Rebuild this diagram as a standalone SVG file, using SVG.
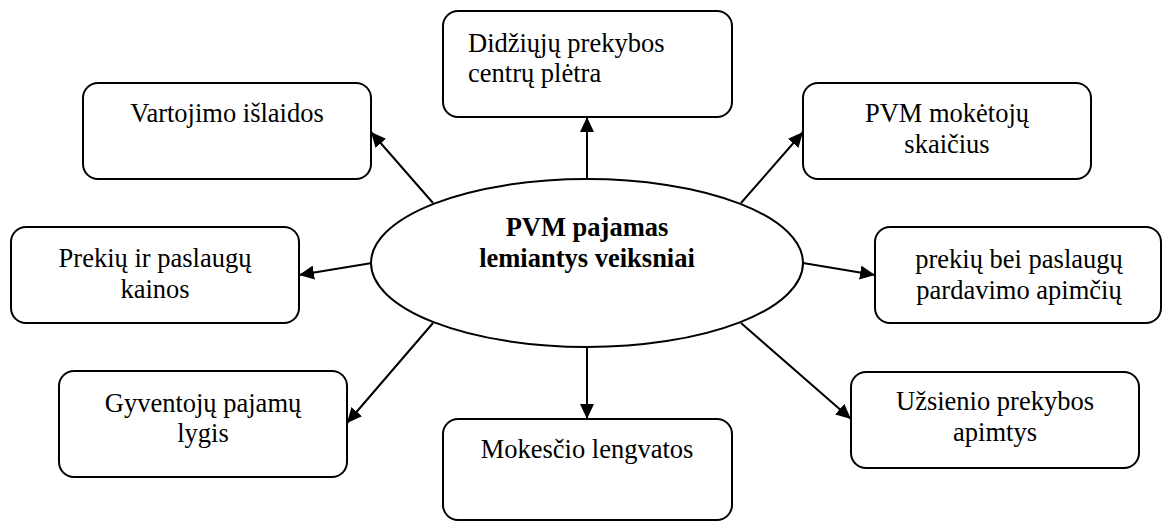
<svg xmlns="http://www.w3.org/2000/svg" width="1162" height="521" viewBox="0 0 1162 521">
<style>
.box{fill:#fff;stroke:#000;stroke-width:2}
.t{font-family:'Liberation Serif','DejaVu Serif',serif;font-size:26.5px;fill:#000}
.c{text-anchor:middle}
.b{font-weight:bold}
.ln{stroke:#000;stroke-width:2;fill:none;marker-end:url(#ah)}
</style>
<defs>
<marker id="ah" markerUnits="userSpaceOnUse" markerWidth="16" markerHeight="14" refX="15" refY="7" orient="auto">
<path d="M0,0 L15,7 L0,14 z" fill="#000"/>
</marker>
</defs>
<rect width="1162" height="521" fill="#fff"/>
<g id="connectors">
<line class="ln" x1="587" y1="179" x2="587" y2="117"/>
<line class="ln" x1="433" y1="203" x2="371" y2="132"/>
<line class="ln" x1="741" y1="203" x2="803" y2="132"/>
<line class="ln" x1="372" y1="263" x2="299" y2="275"/>
<line class="ln" x1="803" y1="263" x2="875" y2="275"/>
<line class="ln" x1="433" y1="323" x2="347" y2="423"/>
<line class="ln" x1="741" y1="323" x2="851" y2="419"/>
<line class="ln" x1="587" y1="347" x2="587" y2="419"/>
</g>
<g id="center">
<ellipse class="box" cx="587" cy="263" rx="216" ry="84"/>
<text class="t c b" x="587" y="236" font-family="Liberation Serif">PVM pajamas</text>
<text class="t c b" x="587" y="267">lemiantys veiksniai</text>
</g>
<g id="n-vartojimo">
<rect class="box" x="83" y="83" width="288" height="96" rx="15"/>
<text class="t c" x="227" y="122">Vartojimo išlaidos</text>
</g>
<g id="n-didziuju">
<rect class="box" x="443" y="11" width="289" height="106" rx="15"/>
<text class="t" x="468" y="52">Didžiųjų prekybos</text>
<text class="t" x="468" y="82">centrų plėtra</text>
</g>
<g id="n-pvm">
<rect class="box" x="803" y="83" width="288" height="96" rx="15"/>
<text class="t c" x="947" y="122">PVM mokėtojų</text>
<text class="t c" x="947" y="153">skaičius</text>
</g>
<g id="n-kainos">
<rect class="box" x="11" y="227" width="288" height="96" rx="15"/>
<text class="t c" x="155" y="267">Prekių ir paslaugų</text>
<text class="t c" x="155" y="298">kainos</text>
</g>
<g id="n-apimciu">
<rect class="box" x="875" y="227" width="286" height="96" rx="15"/>
<text class="t c" x="1019" y="268">prekių bei paslaugų</text>
<text class="t c" x="1019" y="299">pardavimo apimčių</text>
</g>
<g id="n-gyventoju">
<rect class="box" x="59" y="371" width="288" height="106" rx="15"/>
<text class="t c" x="203" y="412">Gyventojų pajamų</text>
<text class="t c" x="203" y="442">lygis</text>
</g>
<g id="n-uzsienio">
<rect class="box" x="851" y="372" width="288" height="96" rx="15"/>
<text class="t c" x="995" y="410">Užsienio prekybos</text>
<text class="t c" x="995" y="441">apimtys</text>
</g>
<g id="n-mokescio">
<rect class="box" x="443" y="419" width="289" height="101" rx="15"/>
<text class="t c" x="587" y="458">Mokesčio lengvatos</text>
</g>
</svg>
